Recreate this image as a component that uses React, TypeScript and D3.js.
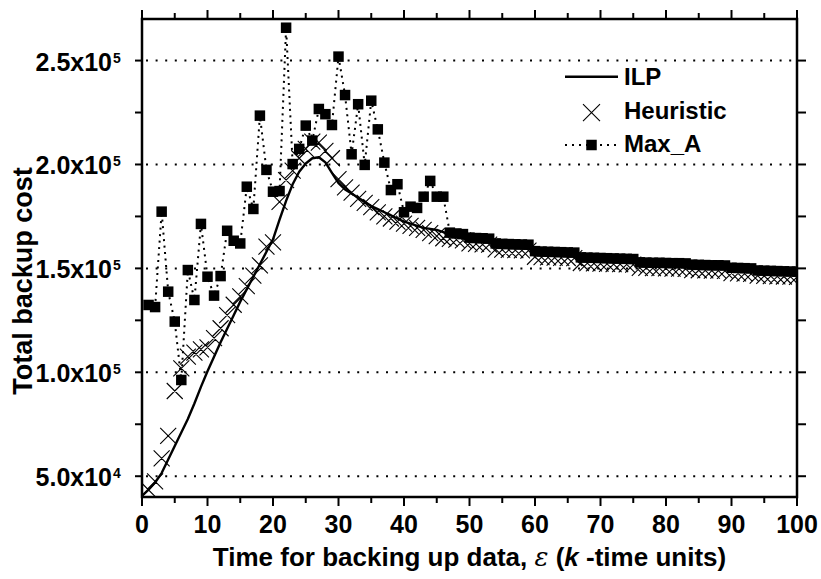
import React from "react";
import * as d3 from "d3";

// ---------- data ----------
const ilpX = d3.range(0, 101);
const ilpValues = [
  40500, 43500, 47000, 51500, 58000, 64500, 71000, 77500, 85000, 93000,
  100500, 107500, 114500, 121000, 127500, 134000, 140000, 146000, 152000, 158000,
  164000, 173500, 182500, 190500, 196500, 200500, 203000, 203500, 201000, 196000,
  191000, 188000, 186000, 184000, 182000, 180000, 178500, 177000, 175500, 174000,
  172500, 171500, 170500, 169500, 169000, 168500, 167500, 166500, 166000, 165500,
  164500, 164000, 163500, 163000, 161500, 161000, 160500, 160200, 160000, 159800,
  158000, 157600, 157300, 157000, 156800, 156600, 156400, 155000, 154800, 154600,
  154400, 154200, 154000, 153900, 153800, 153700, 152500, 152300, 152200, 152100,
  152000, 151900, 151800, 151700, 151200, 151000, 150900, 150800, 150700, 150600,
  149800, 149600, 149500, 149400, 148500, 148400, 148300, 148200, 148100, 148000,
  147900,
];

const heurX = d3.range(1, 101);
const heurValues = [
  43400, 47500, 58600, 69400, 91000, 101900, 107500, 109500, 111000, 112000,
  116400, 121200, 127500, 132500, 136500, 141500, 146500, 151500, 160500, 162500,
  182000, 192500, 197000, 203000, 207500, 211000, 210500, 206500, 203000, 193000,
  189000, 186500, 183500, 181500, 179500, 177000, 175000, 174000, 172500, 171500,
  170500, 169500, 168500, 167000, 165500, 164500, 164200, 163800, 163500, 162000,
  161800, 161600, 161400, 159200, 159000, 158900, 158800, 158700, 158600, 155600,
  155400, 155300, 155200, 155100, 155000, 154900, 152600, 152500, 152400, 152300,
  152200, 152100, 152000, 151900, 151800, 150300, 150200, 150100, 150100, 150000,
  149900, 149900, 149800, 149200, 149100, 149000, 148900, 148900, 148800, 147700,
  147600, 147500, 147400, 146500, 146400, 146300, 146200, 146100, 146000, 145900,
];

const maxAX = d3.range(1, 101);
const maxAValues = [
  132400, 131400, 177300, 138800, 124400, 96300, 149200, 134800, 171400, 146000,
  136900, 146300, 168100, 163300, 162000, 189300, 178600, 223500, 197400, 186900,
  187200, 265800, 200200, 207500, 218700, 211500, 226700, 224200, 219000, 251900,
  233400, 204900, 229000, 199800, 230700, 216900, 200900, 187700, 190500, 177000,
  179700, 179100, 184500, 192100, 184500, 184500, 167200, 166800, 166500, 164800,
  164600, 164500, 164300, 162000, 161800, 161700, 161600, 161500, 161400, 158300,
  158100, 158000, 157900, 157800, 157700, 157600, 155300, 155200, 155100, 155000,
  154900, 154800, 154700, 154600, 154500, 152900, 152800, 152700, 152700, 152600,
  152500, 152500, 152400, 151800, 151700, 151600, 151500, 151500, 151400, 150300,
  150200, 150100, 150000, 149000, 148900, 148800, 148700, 148600, 148500, 148400,
];

const xMajorTicks = [0, 10, 20, 30, 40, 50, 60, 70, 80, 90, 100];
const xMinorTicks = [5, 15, 25, 35, 45, 55, 65, 75, 85, 95];
const yMajorTicks = [50000, 100000, 150000, 200000, 250000];
const yMinorTicks = [75000, 125000, 175000, 225000];
const yTickMantissa = ["5.0x10", "1.0x10", "1.5x10", "2.0x10", "2.5x10"];
const yTickExponent = ["4", "5", "5", "5", "5"];

const legendLabels = ["ILP", "Heuristic", "Max_A"];

// ---------- layout ----------
const W = 821;
const H = 579;
const L = 142;
const R = 797;
const T = 19;
const B = 497;

const FONT = "'Liberation Sans', Arial, Helvetica, sans-serif";

export default function App() {
  const x = d3.scaleLinear().domain([0, 100]).range([L, R]);
  const y = d3.scaleLinear().domain([40000, 270000]).range([B, T]);

  const ilpLine = d3
    .line<number>()
    .x((_, i) => x(ilpX[i]))
    .y((d) => y(d))
    .curve(d3.curveLinear)(ilpValues) as string;

  const maxALine = d3
    .line<number>()
    .x((_, i) => x(maxAX[i]))
    .y((d) => y(d))(maxAValues) as string;

  const cross = (cx: number, cy: number, h: number) =>
    `M${cx - h},${cy - h}L${cx + h},${cy + h}M${cx - h},${cy + h}L${cx + h},${cy - h}`;

  const sq = 10.5;
  const xh = 8;

  const legX0 = 565;
  const legX1 = 618;
  const legMid = (legX0 + legX1) / 2;
  const legTextX = 624;

  return (
    <svg
      width={W}
      height={H}
      viewBox={`0 0 ${W} ${H}`}
      style={{ position: "absolute", left: 0, top: 0, background: "#fff" }}
      fontFamily={FONT}
    >
      <rect x={0} y={0} width={W} height={H} fill="#fff" />
      <defs>
        <clipPath id="plotClip">
          <rect x={L} y={T} width={R - L} height={B - T} />
        </clipPath>
      </defs>

      {/* grid lines */}
      {yMajorTicks.map((v) => (
        <line
          key={"g" + v}
          x1={L + 4}
          x2={R}
          y1={y(v)}
          y2={y(v)}
          stroke="#000"
          strokeWidth={2}
          strokeDasharray="2 7.6"
        />
      ))}

      {/* data */}
      <g clipPath="url(#plotClip)">
        <path d={ilpLine} fill="none" stroke="#000" strokeWidth={2.4} strokeLinejoin="round" />
        <path
          d={heurValues.map((v, i) => cross(x(heurX[i]), y(v), xh)).join("")}
          fill="none"
          stroke="#000"
          strokeWidth={1.1}
        />
        <path
          d={maxALine}
          fill="none"
          stroke="#000"
          strokeWidth={2}
          strokeDasharray="2 4.5"
        />
        {maxAValues.map((v, i) => (
          <rect
            key={"s" + i}
            x={x(maxAX[i]) - sq / 2}
            y={y(v) - sq / 2}
            width={sq}
            height={sq}
            fill="#000"
          />
        ))}
      </g>

      {/* axes frame */}
      <rect x={L} y={T} width={R - L} height={B - T} fill="none" stroke="#000" strokeWidth={2.5} />

      {/* x ticks bottom & top */}
      {xMajorTicks.map((v) => (
        <g key={"xt" + v}>
          <line x1={x(v)} x2={x(v)} y1={B} y2={B + 9} stroke="#000" strokeWidth={2} />
          <line x1={x(v)} x2={x(v)} y1={T} y2={T - 9} stroke="#000" strokeWidth={2} />
          <text
            x={x(v)}
            y={533}
            textAnchor="middle"
            fontSize={25}
            fontWeight="bold"
          >
            {v}
          </text>
        </g>
      ))}
      {xMinorTicks.map((v) => (
        <g key={"xm" + v}>
          <line x1={x(v)} x2={x(v)} y1={B} y2={B + 6} stroke="#000" strokeWidth={2} />
          <line x1={x(v)} x2={x(v)} y1={T} y2={T - 6} stroke="#000" strokeWidth={2} />
        </g>
      ))}

      {/* y ticks left & right */}
      {yMajorTicks.map((v, i) => (
        <g key={"yt" + v}>
          <line x1={L} x2={L - 7} y1={y(v)} y2={y(v)} stroke="#000" strokeWidth={2} />
          <line x1={R} x2={R + 9} y1={y(v)} y2={y(v)} stroke="#000" strokeWidth={2} />
          <text x={112} y={y(v) + 10} textAnchor="end" fontSize={25} fontWeight="bold">
            {yTickMantissa[i]}
          </text>
          <text x={113} y={y(v) + 2} textAnchor="start" fontSize={14} fontWeight="bold">
            {yTickExponent[i]}
          </text>
        </g>
      ))}
      {yMinorTicks.map((v) => (
        <g key={"ym" + v}>
          <line x1={L} x2={L - 7} y1={y(v)} y2={y(v)} stroke="#000" strokeWidth={2} />
          <line x1={R} x2={R + 9} y1={y(v)} y2={y(v)} stroke="#000" strokeWidth={2} />
        </g>
      ))}

      {/* axis titles */}
      <text
        transform={`translate(32, 281) rotate(-90)`}
        textAnchor="middle"
        fontSize={27}
        fontWeight="bold"
      >
        Total backup cost
      </text>
      <text x={(L + R) / 2} y={566} textAnchor="middle" fontSize={26} fontWeight="bold">
        <tspan>Time for backing up data, </tspan>
        <tspan fontStyle="italic" fontWeight="normal" fontFamily="'DejaVu Serif', serif">
          ε
        </tspan>
        <tspan> (</tspan>
        <tspan fontStyle="italic">k</tspan>
        <tspan> -time units)</tspan>
      </text>

      {/* legend */}
      <line x1={legX0} x2={legX1} y1={76.7} y2={76.7} stroke="#000" strokeWidth={2.4} />
      <text x={legTextX} y={85} fontSize={24} fontWeight="bold">
        {legendLabels[0]}
      </text>
      <path d={cross(legMid, 112.7, 8.5)} stroke="#000" strokeWidth={1.1} fill="none" />
      <text x={legTextX} y={118.5} fontSize={24} fontWeight="bold">
        {legendLabels[1]}
      </text>
      <line
        x1={legX0}
        x2={legX1}
        y1={145}
        y2={145}
        stroke="#000"
        strokeWidth={2}
        strokeDasharray="2 5"
      />
      <rect x={legMid - sq / 2} y={145 - sq / 2} width={sq} height={sq} fill="#000" />
      <text x={legTextX} y={152} fontSize={24} fontWeight="bold">
        {legendLabels[2]}
      </text>
    </svg>
  );
}
